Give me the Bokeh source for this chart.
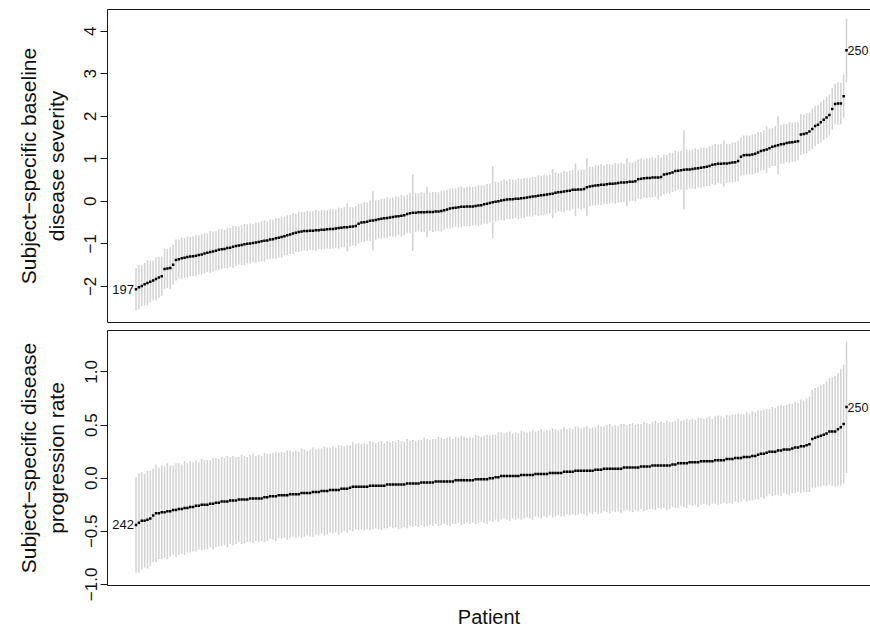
from bokeh.plotting import figure
from bokeh.layouts import column
from bokeh.models import Range1d, FixedTicker, LinearAxis
from bokeh.embed import file_html
from bokeh.resources import INLINE
from bokeh.core.properties import value

# ---------------- data ----------------
baseline_est = [
    -2.07, -2.02, -1.99, -1.95, -1.92, -1.89, -1.86, -1.83, -1.79, -1.76,
    -1.59, -1.58, -1.57, -1.49, -1.38, -1.36, -1.34, -1.33, -1.31, -1.30,
    -1.29, -1.28, -1.26, -1.25, -1.23, -1.21, -1.19, -1.18, -1.16, -1.14,
    -1.13, -1.12, -1.10, -1.09, -1.07, -1.05, -1.04, -1.03, -1.01, -1.00,
    -0.99, -0.98, -0.97, -0.96, -0.94, -0.93, -0.92, -0.90, -0.89, -0.87,
    -0.86, -0.84, -0.82, -0.80, -0.78, -0.76, -0.74, -0.72, -0.71, -0.70,
    -0.70, -0.69, -0.69, -0.68, -0.68, -0.67, -0.67, -0.66, -0.65, -0.65,
    -0.64, -0.63, -0.62, -0.61, -0.61, -0.60, -0.59, -0.58, -0.53, -0.50,
    -0.49, -0.48, -0.46, -0.45, -0.44, -0.42, -0.41, -0.40, -0.39, -0.38,
    -0.37, -0.36, -0.35, -0.34, -0.33, -0.30, -0.28, -0.27, -0.27, -0.26,
    -0.26, -0.26, -0.25, -0.25, -0.25, -0.24, -0.24, -0.23, -0.21, -0.19,
    -0.17, -0.16, -0.15, -0.14, -0.13, -0.13, -0.12, -0.12, -0.12, -0.11,
    -0.10, -0.09, -0.07, -0.06, -0.04, -0.02, -0.01, 0.00, 0.02, 0.03,
    0.04, 0.05, 0.05, 0.06, 0.06, 0.07, 0.08, 0.09, 0.10, 0.11,
    0.12, 0.13, 0.14, 0.15, 0.16, 0.17, 0.18, 0.20, 0.21, 0.22,
    0.23, 0.24, 0.25, 0.27, 0.27, 0.28, 0.28, 0.29, 0.33, 0.35,
    0.36, 0.37, 0.38, 0.39, 0.39, 0.40, 0.41, 0.41, 0.42, 0.43,
    0.44, 0.44, 0.45, 0.46, 0.46, 0.47, 0.52, 0.53, 0.54, 0.55,
    0.55, 0.56, 0.56, 0.56, 0.57, 0.63, 0.64, 0.66, 0.68, 0.71,
    0.72, 0.73, 0.74, 0.75, 0.75, 0.76, 0.77, 0.78, 0.79, 0.80,
    0.81, 0.83, 0.86, 0.87, 0.88, 0.88, 0.89, 0.89, 0.90, 0.91,
    0.92, 0.95, 1.05, 1.08, 1.09, 1.09, 1.10, 1.12, 1.15, 1.18,
    1.20, 1.22, 1.25, 1.28, 1.30, 1.32, 1.34, 1.35, 1.37, 1.38,
    1.39, 1.40, 1.41, 1.57, 1.58, 1.60, 1.64, 1.70, 1.77, 1.80,
    1.86, 1.92, 1.97, 2.03, 2.17, 2.29, 2.30, 2.30, 2.47, 3.55,
]
baseline_halfwidth = [
    0.50, 0.52, 0.48, 0.50, 0.53, 0.49, 0.47, 0.50, 0.48, 0.46,
    0.48, 0.46, 0.49, 0.47, 0.48, 0.46, 0.49, 0.47, 0.48, 0.46,
    0.47, 0.49, 0.46, 0.48, 0.47, 0.45, 0.49, 0.47, 0.46, 0.48,
    0.47, 0.45, 0.48, 0.46, 0.49, 0.47, 0.45, 0.47, 0.48, 0.46,
    0.47, 0.45, 0.48, 0.46, 0.47, 0.49, 0.45, 0.47, 0.46, 0.48,
    0.46, 0.48, 0.45, 0.47, 0.46, 0.48, 0.45, 0.47, 0.46, 0.45,
    0.47, 0.45, 0.46, 0.48, 0.45, 0.47, 0.46, 0.45, 0.47, 0.46,
    0.45, 0.48, 0.46, 0.47, 0.57, 0.46, 0.45, 0.47, 0.46, 0.45,
    0.47, 0.45, 0.48, 0.70, 0.46, 0.45, 0.47, 0.46, 0.48, 0.45,
    0.46, 0.47, 0.45, 0.49, 0.46, 0.45, 0.47, 0.90, 0.46, 0.45,
    0.47, 0.46, 0.60, 0.45, 0.47, 0.46, 0.45, 0.48, 0.46, 0.45,
    0.47, 0.46, 0.45, 0.47, 0.48, 0.45, 0.46, 0.47, 0.45, 0.46,
    0.48, 0.46, 0.45, 0.47, 0.46, 0.85, 0.47, 0.45, 0.46, 0.48,
    0.45, 0.47, 0.46, 0.45, 0.48, 0.46, 0.47, 0.45, 0.46, 0.47,
    0.45, 0.48, 0.46, 0.47, 0.45, 0.46, 0.58, 0.47, 0.45, 0.46,
    0.48, 0.45, 0.47, 0.46, 0.62, 0.45, 0.47, 0.46, 0.68, 0.46,
    0.45, 0.47, 0.46, 0.48, 0.45, 0.47, 0.46, 0.45, 0.48, 0.46,
    0.47, 0.45, 0.57, 0.46, 0.45, 0.47, 0.46, 0.48, 0.45, 0.47,
    0.46, 0.47, 0.45, 0.52, 0.46, 0.47, 0.45, 0.48, 0.46, 0.47,
    0.45, 0.46, 0.93, 0.47, 0.45, 0.46, 0.48, 0.45, 0.47, 0.46,
    0.45, 0.47, 0.46, 0.48, 0.45, 0.47, 0.54, 0.46, 0.45, 0.47,
    0.46, 0.48, 0.45, 0.47, 0.46, 0.45, 0.47, 0.46, 0.48, 0.45,
    0.47, 0.55, 0.46, 0.45, 0.47, 0.69, 0.46, 0.47, 0.45, 0.48,
    0.46, 0.47, 0.45, 0.48, 0.46, 0.47, 0.45, 0.48, 0.47, 0.46,
    0.48, 0.47, 0.49, 0.48, 0.49, 0.48, 0.50, 0.49, 0.51, 0.75,
]
rate_est = [
    -0.44, -0.42, -0.40, -0.40, -0.39, -0.38, -0.35, -0.33, -0.33, -0.32,
    -0.32, -0.31, -0.31, -0.30, -0.30, -0.29, -0.29, -0.28, -0.28, -0.27,
    -0.27, -0.26, -0.26, -0.25, -0.25, -0.25, -0.24, -0.24, -0.23, -0.23,
    -0.22, -0.22, -0.22, -0.21, -0.21, -0.21, -0.20, -0.20, -0.20, -0.20,
    -0.19, -0.19, -0.19, -0.19, -0.19, -0.18, -0.18, -0.17, -0.17, -0.17,
    -0.16, -0.16, -0.16, -0.16, -0.15, -0.15, -0.15, -0.15, -0.14, -0.14,
    -0.14, -0.14, -0.13, -0.13, -0.13, -0.12, -0.12, -0.12, -0.11, -0.11,
    -0.11, -0.11, -0.10, -0.10, -0.10, -0.09, -0.08, -0.08, -0.08, -0.08,
    -0.08, -0.08, -0.07, -0.07, -0.07, -0.07, -0.07, -0.07, -0.06, -0.06,
    -0.06, -0.06, -0.06, -0.06, -0.06, -0.05, -0.05, -0.05, -0.05, -0.05,
    -0.04, -0.04, -0.04, -0.04, -0.04, -0.03, -0.03, -0.03, -0.03, -0.03,
    -0.03, -0.03, -0.02, -0.02, -0.02, -0.02, -0.02, -0.02, -0.02, -0.01,
    -0.01, -0.01, -0.01, -0.01, 0.00, 0.00, 0.01, 0.01, 0.02, 0.02,
    0.02, 0.02, 0.02, 0.02, 0.02, 0.03, 0.03, 0.03, 0.03, 0.03,
    0.04, 0.04, 0.04, 0.04, 0.04, 0.05, 0.05, 0.05, 0.05, 0.05,
    0.06, 0.06, 0.06, 0.06, 0.07, 0.07, 0.07, 0.07, 0.07, 0.07,
    0.07, 0.08, 0.08, 0.08, 0.09, 0.09, 0.09, 0.09, 0.09, 0.09,
    0.09, 0.10, 0.10, 0.10, 0.10, 0.10, 0.10, 0.11, 0.11, 0.11,
    0.11, 0.12, 0.12, 0.12, 0.12, 0.12, 0.12, 0.12, 0.13, 0.13,
    0.14, 0.14, 0.14, 0.14, 0.15, 0.15, 0.15, 0.15, 0.16, 0.16,
    0.16, 0.16, 0.16, 0.17, 0.17, 0.17, 0.17, 0.18, 0.18, 0.18,
    0.19, 0.19, 0.19, 0.20, 0.20, 0.20, 0.21, 0.21, 0.22, 0.23,
    0.23, 0.24, 0.25, 0.25, 0.25, 0.26, 0.26, 0.27, 0.27, 0.27,
    0.28, 0.29, 0.29, 0.30, 0.30, 0.31, 0.32, 0.37, 0.38, 0.39,
    0.40, 0.41, 0.42, 0.44, 0.44, 0.44, 0.46, 0.48, 0.51, 0.67,
]
rate_halfwidth = [
    0.45, 0.47, 0.46, 0.44, 0.46, 0.45, 0.44, 0.46, 0.43, 0.44,
    0.43, 0.45, 0.43, 0.42, 0.44, 0.43, 0.42, 0.44, 0.42, 0.43,
    0.42, 0.43, 0.41, 0.43, 0.42, 0.42, 0.41, 0.43, 0.42, 0.41,
    0.42, 0.41, 0.43, 0.41, 0.42, 0.41, 0.40, 0.42, 0.41, 0.40,
    0.41, 0.42, 0.40, 0.41, 0.40, 0.42, 0.41, 0.40, 0.41, 0.42,
    0.40, 0.41, 0.40, 0.42, 0.41, 0.40, 0.41, 0.40, 0.42, 0.41,
    0.40, 0.41, 0.42, 0.40, 0.41, 0.40, 0.42, 0.41, 0.40, 0.41,
    0.40, 0.42, 0.41, 0.40, 0.41, 0.40, 0.42, 0.40, 0.41, 0.40,
    0.41, 0.40, 0.42, 0.41, 0.40, 0.41, 0.42, 0.40, 0.41, 0.40,
    0.41, 0.40, 0.42, 0.41, 0.40, 0.42, 0.40, 0.41, 0.40, 0.41,
    0.40, 0.42, 0.41, 0.40, 0.41, 0.40, 0.42, 0.41, 0.40, 0.41,
    0.42, 0.40, 0.41, 0.40, 0.42, 0.41, 0.40, 0.41, 0.40, 0.42,
    0.41, 0.40, 0.41, 0.42, 0.40, 0.41, 0.40, 0.42, 0.41, 0.40,
    0.41, 0.42, 0.40, 0.41, 0.40, 0.42, 0.41, 0.40, 0.41, 0.42,
    0.40, 0.41, 0.42, 0.40, 0.41, 0.40, 0.42, 0.41, 0.40, 0.41,
    0.42, 0.40, 0.41, 0.40, 0.42, 0.41, 0.40, 0.41, 0.42, 0.40,
    0.41, 0.40, 0.42, 0.41, 0.40, 0.41, 0.42, 0.40, 0.41, 0.40,
    0.42, 0.41, 0.40, 0.41, 0.42, 0.40, 0.41, 0.40, 0.42, 0.41,
    0.40, 0.41, 0.42, 0.40, 0.41, 0.40, 0.42, 0.41, 0.40, 0.41,
    0.42, 0.40, 0.41, 0.42, 0.40, 0.41, 0.40, 0.42, 0.41, 0.40,
    0.41, 0.42, 0.40, 0.41, 0.42, 0.41, 0.40, 0.42, 0.41, 0.42,
    0.41, 0.42, 0.41, 0.40, 0.42, 0.41, 0.42, 0.41, 0.42, 0.41,
    0.42, 0.41, 0.40, 0.42, 0.41, 0.42, 0.43, 0.41, 0.42, 0.43,
    0.42, 0.43, 0.42, 0.44, 0.43, 0.44, 0.45, 0.46, 0.47, 0.47,
    0.48, 0.48, 0.49, 0.50, 0.51, 0.52, 0.53, 0.55, 0.56, 0.62,
]

baseline_ticks = [-2, -1, 0, 1, 2, 3, 4]
baseline_tick_labels = ["\u22122", "\u22121", "0", "1", "2", "3", "4"]
rate_ticks = [-1.0, -0.5, 0.0, 0.5, 1.0]
rate_tick_labels = ["\u22121.0", "\u22120.5", "0.0", "0.5", "1.0"]
baseline_point_labels = ["197", "250"]
rate_point_labels = ["242", "250"]

FONT = "Liberation Sans"
BAR = "#d2d2d2"
BOX = "#1a1a1a"


def style(p, ticks, tick_labels, ylabel):
    p.outline_line_color = None
    p.xgrid.visible = False
    p.ygrid.visible = False
    p.background_fill_color = "white"
    p.border_fill_color = "white"
    # y axis
    ya = p.left[0]
    ya.ticker = FixedTicker(ticks=ticks)
    ya.major_label_overrides = {t: s for t, s in zip(ticks, tick_labels)}
    ya.major_label_orientation = "vertical"
    ya.minor_tick_line_color = None
    ya.major_tick_out = 7
    ya.major_tick_in = 0
    ya.major_tick_line_color = BOX
    ya.axis_line_color = BOX
    ya.major_label_text_font = FONT
    ya.major_label_text_font_size = "17px"
    ya.major_label_text_color = "#111111"
    ya.major_label_standoff = 4
    ya.axis_label = ylabel
    ya.axis_label_text_font = FONT
    ya.axis_label_text_font_size = "21px"
    ya.axis_label_text_font_style = "normal"
    ya.axis_label_text_color = "#111111"
    ya.axis_label_standoff = 14
    # bottom axis = lower edge of the box
    xa = p.below[0]
    xa.ticker = FixedTicker(ticks=[])
    xa.major_tick_out = 0
    xa.major_tick_in = 0
    xa.minor_tick_out = 0
    xa.minor_tick_in = 0
    xa.axis_line_color = BOX
    # top axis = upper edge of the box
    top = LinearAxis(ticker=FixedTicker(ticks=[]), major_tick_out=0, major_tick_in=0,
                     minor_tick_out=0, minor_tick_in=0, axis_line_color=BOX)
    p.add_layout(top, "above")


def panel(est, hw, ticks, tick_labels, point_labels, ylabel, yr, height, mb_top, mb_bottom):
    patient = list(range(1, len(est) + 1))
    lo = [e - h for e, h in zip(est, hw)]
    hi = [e + h for e, h in zip(est, hw)]
    p = figure(width=870, height=height, x_range=Range1d(-9.0, 258.4), y_range=Range1d(*yr),
               output_backend="svg", toolbar_location=None,
               min_border_left=107, min_border_right=0,
               min_border_top=mb_top, min_border_bottom=mb_bottom)
    p.segment(x0=patient, y0=lo, x1=patient, y1=hi, line_color=BAR, line_width=1.5)
    p.scatter(x=patient, y=est, marker="square", size=2.5, fill_color="black",
              line_color=None)
    p.text(x=[patient[0]], y=[est[0]], text=[point_labels[0]], text_align="right",
           text_baseline="middle", x_offset=-2, text_font=value(FONT),
           text_font_size="13px", text_color="#111111")
    p.text(x=[patient[-1]], y=[est[-1]], text=[point_labels[1]], text_align="left",
           text_baseline="middle", x_offset=1, text_font=value(FONT),
           text_font_size="12.5px", text_color="#111111")
    style(p, ticks, tick_labels, ylabel)
    return p


p1 = panel(baseline_est, baseline_halfwidth, baseline_ticks, baseline_tick_labels,
           baseline_point_labels, "Subject\u2212specific baseline\ndisease severity",
           (-2.85, 4.51), 326, 9, 4)
p2 = panel(rate_est, rate_halfwidth, rate_ticks, rate_tick_labels,
           rate_point_labels, "Subject\u2212specific disease\nprogression rate",
           (-1.01, 1.39), 304, 4, 44)
xa2 = p2.below[0]
xa2.axis_label = "Patient"
xa2.axis_label_text_font = FONT
xa2.axis_label_text_font_size = "20px"
xa2.axis_label_text_font_style = "normal"
xa2.axis_label_text_color = "#111111"
xa2.axis_label_standoff = 20

layout = column(p1, p2, spacing=0)
open("out.html", "w").write(file_html(layout, INLINE))
